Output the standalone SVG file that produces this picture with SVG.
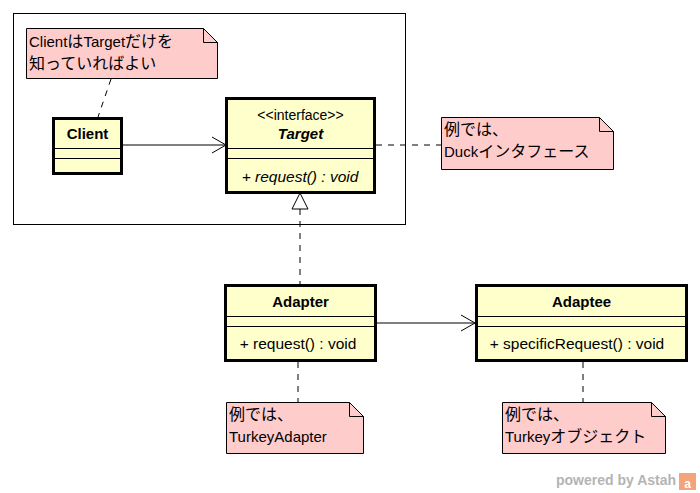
<svg xmlns="http://www.w3.org/2000/svg" width="700" height="493" viewBox="0 0 700 493">
  <style>
    text { font-family: "Liberation Sans", "Noto Sans CJK JP", sans-serif; font-size: 15px; fill: #000; }
    .jp { font-size: 16px; }
    .cls { fill: #ffffcc; stroke: #000; stroke-width: 3; }
    .div { stroke: #000; stroke-width: 1; fill: none; }
    .note { fill: #ffcccc; stroke: #000; stroke-width: 1; }
    .name { font-weight: bold; text-anchor: middle; }
    .mid { text-anchor: middle; }
    .dash { stroke: #000; stroke-width: 1; stroke-dasharray: 6 6; fill: none; }
    .line { stroke: #000; stroke-width: 1; fill: none; }
    .logo { font-weight: bold; font-size: 14px; fill: #b4b4b4; }
  </style>
  <defs>
    <marker id="open" markerWidth="16" markerHeight="18" refX="15" refY="9" orient="auto" markerUnits="userSpaceOnUse">
      <path d="M1,1 L15,9 L1,17" fill="none" stroke="#000" stroke-width="1"/>
    </marker>
    <marker id="realize" markerWidth="20" markerHeight="18" refX="17" refY="9" orient="auto" markerUnits="userSpaceOnUse">
      <path d="M1,1 L17,9 L1,17 Z" fill="#fff" stroke="#000" stroke-width="1"/>
    </marker>
  </defs>
  <rect width="700" height="493" fill="#fff"/>

  <!-- package frame -->
  <rect id="frame" x="13.5" y="13.5" width="392" height="211" fill="none" stroke="#000" stroke-width="1"/>

  <!-- connectors -->
  <g id="connectors">
    <path class="line" d="M122,145 H226" marker-end="url(#open)"/>
    <path class="dash" d="M300,287 V193" marker-end="url(#realize)"/>
    <path class="line" d="M376,323 H475" marker-end="url(#open)"/>
    <path class="dash" d="M111,79 L98,117"/>
    <path class="dash" d="M376,145 H441"/>
    <path class="dash" d="M298,362 V402"/>
    <path class="dash" d="M583,362 V402"/>
  </g>

  <g id="note-client">
    <path class="note" d="M26.5,28.5 H203.5 L217.5,42.5 V78.5 H26.5 Z"/>
    <path class="line" d="M203.5,28.5 V42.5 H217.5"/>
    <text x="29" y="47">Client<tspan class="jp">は</tspan>Target<tspan class="jp">だけを</tspan></text>
    <text x="29" y="69" class="jp">知っていればよい</text>
  </g>

  <g id="client">
    <rect class="cls" x="53.5" y="118.5" width="68" height="55"/>
    <path class="div" d="M53,148.5 H122 M53,158.5 H122"/>
    <text class="name" x="87.5" y="139">Client</text>
  </g>

  <g id="target">
    <rect class="cls" x="226.5" y="98.5" width="148" height="94"/>
    <path class="div" d="M226,148.5 H375 M226,158.5 H375"/>
    <text class="mid" x="300.5" y="120" style="font-size:14px">&lt;&lt;interface&gt;&gt;</text>
    <text class="name" x="300.5" y="139" font-style="italic">Target</text>
    <text class="mid" x="300" y="182" font-style="italic" style="font-size:15.5px">+ request() : void</text>
  </g>

  <g id="note-duck">
    <path class="note" d="M441.5,117.5 H599.5 L613.5,131.5 V169.5 H441.5 Z"/>
    <path class="line" d="M599.5,117.5 V131.5 H613.5"/>
    <text x="444" y="135" class="jp">例では、</text>
    <text x="444" y="157">Duck<tspan class="jp">インタフェース</tspan></text>
  </g>

  <g id="adapter">
    <rect class="cls" x="225.5" y="285.5" width="150" height="75"/>
    <path class="div" d="M225,316.5 H376 M225,326.5 H376"/>
    <text class="name" x="300.5" y="307">Adapter</text>
    <text class="mid" x="298" y="349" style="font-size:15.5px">+ request() : void</text>
  </g>

  <g id="adaptee">
    <rect class="cls" x="476.5" y="285.5" width="210" height="75"/>
    <path class="div" d="M476,316.5 H687 M476,326.5 H687"/>
    <text class="name" x="581.5" y="307">Adaptee</text>
    <text class="mid" x="577" y="349" style="font-size:15.5px">+ specificRequest() : void</text>
  </g>

  <g id="note-adapter">
    <path class="note" d="M226.5,402.5 H349.5 L363.5,416.5 V453.5 H226.5 Z"/>
    <path class="line" d="M349.5,402.5 V416.5 H363.5"/>
    <text x="229" y="420" class="jp">例では、</text>
    <text x="229" y="442">TurkeyAdapter</text>
  </g>

  <g id="note-adaptee">
    <path class="note" d="M502.5,402.5 H651.5 L665.5,416.5 V453.5 H502.5 Z"/>
    <path class="line" d="M651.5,402.5 V416.5 H665.5"/>
    <text x="505" y="420" class="jp">例では、</text>
    <text x="505" y="442">Turkey<tspan class="jp">オブジェクト</tspan></text>
  </g>

  <!-- logo -->
  <g id="logo">
    <text class="logo" x="556" y="485">powered by Astah</text>
    <rect x="679" y="473" width="17" height="17" fill="#f4a37a"/>
    <text x="687.5" y="488" style="font-size:12px;font-weight:bold;fill:#fff;text-anchor:middle">a</text>
  </g>
</svg>
